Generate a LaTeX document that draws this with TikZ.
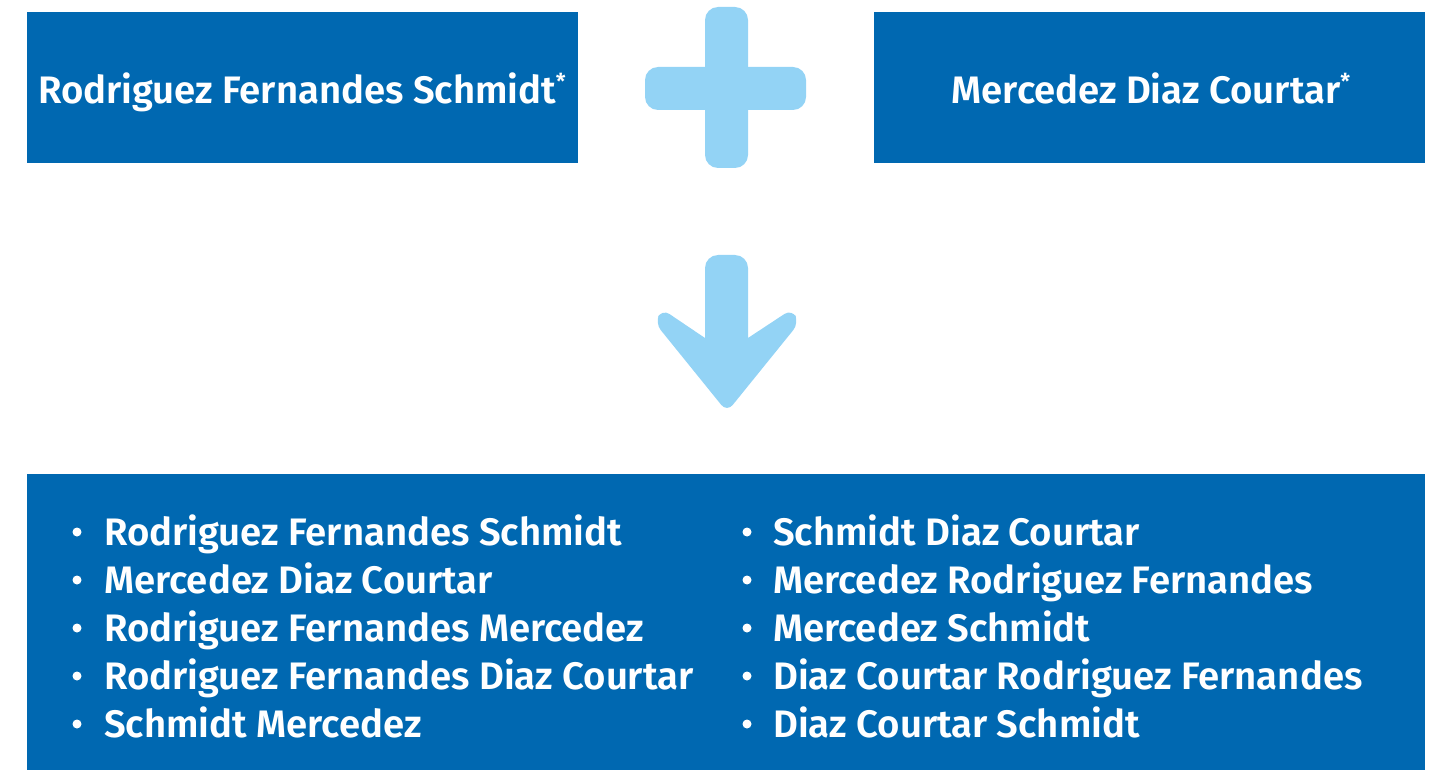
\documentclass[tikz,border=0pt]{standalone}
\usepackage{fontspec}
\setmainfont{Fira Sans}[BoldFont={* SemiBold}]
\definecolor{boxblue}{RGB}{0,104,177}
\definecolor{lightblue}{RGB}{147,211,245}
\newcommand{\myast}{\raisebox{14pt}{\fontsize{22}{22}\selectfont *}}
\tikzset{
  bluebox/.style={fill=boxblue, draw=none},
  shapefill/.style={fill=lightblue, draw=none},
  boxtext/.style={text=white, font=\bfseries\fontsize{38.3}{46}\selectfont, inner sep=0pt, anchor=base},
  itemtext/.style={text=white, font=\bfseries\fontsize{38.3}{46}\selectfont, inner sep=0pt, anchor=base west},
  bullet/.style={fill=white, draw=none, circle, minimum size=9pt, inner sep=0pt}
}
\begin{document}
\begin{tikzpicture}[x=1pt,y=-1pt]
\useasboundingbox (0,0) rectangle (1441,770);
% top boxes
\path[bluebox] (27,12) rectangle (578,163);
\path[bluebox] (874,12) rectangle (1425,163);
\node[boxtext] (a) at (302,104) {Rodriguez Fernandes Schmidt\myast};
\node[boxtext] (b) at (1151,104) {Mercedez Diaz Courtar\myast};
% plus
\path[shapefill, rounded corners=13pt] (705,7) rectangle (748,168);
\path[shapefill, rounded corners=13pt] (645,67) rectangle (806,110);
% arrow
\path[shapefill] (705,268) [rounded corners=13pt] -- (705,255) -- (748,255) [sharp corners] -- (748,338)
  [rounded corners=9pt] -- (792,309) -- (799,323) -- (727,412) -- (655,323) -- (662,309) [sharp corners] -- (705,338) -- cycle;
% bottom box
\path[bluebox] (27,474) rectangle (1425,770);
\foreach \t [count=\i] in {Rodriguez Fernandes Schmidt, Mercedez Diaz Courtar, Rodriguez Fernandes Mercedez, Rodriguez Fernandes Diaz Courtar, Schmidt Mercedez}{
  \node[bullet] (bl\i) at (77,{545-13+48*(\i-1)}) {};
  \node[itemtext] (l\i) at (104,{545+48*(\i-1)}) {\t};
}
\foreach \t [count=\i] in {Schmidt Diaz Courtar, Mercedez Rodriguez Fernandes, Mercedez Schmidt, Diaz Courtar Rodriguez Fernandes, Diaz Courtar Schmidt}{
  \node[bullet] (br\i) at (747,{545-13+48*(\i-1)}) {};
  \node[itemtext] (r\i) at (773,{545+48*(\i-1)}) {\t};
}
\end{tikzpicture}
\end{document}
